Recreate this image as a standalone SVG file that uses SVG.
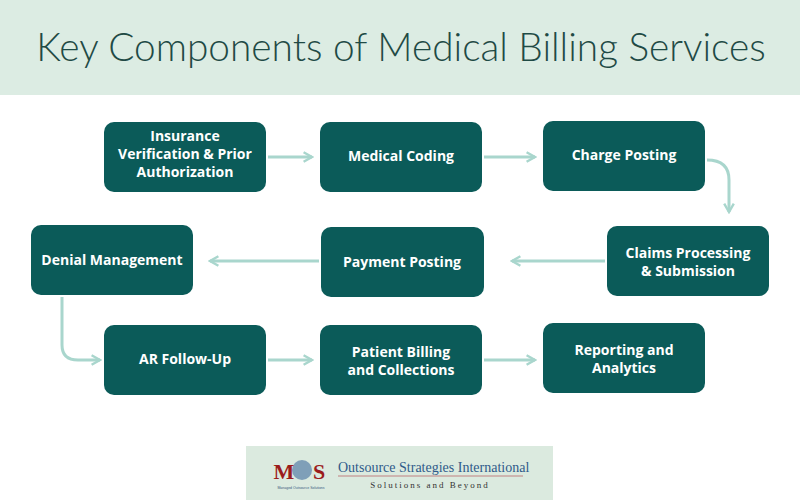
<svg xmlns="http://www.w3.org/2000/svg" width="800" height="500" viewBox="0 0 800 500">
<defs>
<style>
.b{fill:#0b5b59}
.t{fill:#fff;font-family:"Open Sans",sans-serif;font-weight:700;font-size:14px;text-anchor:middle}
.c{fill:none;stroke:#a9d6cd;stroke-width:3}
</style>
<marker id="a" viewBox="0 0 10 10" refX="8" refY="5" markerWidth="4" markerHeight="4" orient="auto" markerUnits="strokeWidth"><path d="M1,1 L8,5 L1,9" fill="none" stroke="#a9d6cd" stroke-width="2"/></marker>
</defs>
<rect width="800" height="500" fill="#fff"/>
<rect width="800" height="95" fill="#dcece3"/>
<text x="401" y="61" font-family="Lato,sans-serif" font-weight="300" font-size="38.8" fill="#1f4a45" text-anchor="middle">Key Components of Medical Billing Services</text>
<g id="connectors">
<path class="c" d="M268,157 H312" marker-end="url(#a)"/>
<path class="c" d="M484,157 H535" marker-end="url(#a)"/>
<path class="c" d="M707,160 Q729,160 729,180 V212" marker-end="url(#a)"/>
<path class="c" d="M605,261 H512" marker-end="url(#a)"/>
<path class="c" d="M319,261 H210" marker-end="url(#a)"/>
<path class="c" d="M62,297 V345 Q62,360 78,360 H100" marker-end="url(#a)"/>
<path class="c" d="M268,360 H312" marker-end="url(#a)"/>
<path class="c" d="M484,360 H535" marker-end="url(#a)"/>
</g>
<g id="n1"><rect class="b" x="104" y="122" width="162" height="70" rx="10"/><text class="t" x="185" y="141">Insurance</text><text class="t" x="185" y="159">Verification &amp; Prior</text><text class="t" x="185" y="177">Authorization</text></g>
<g id="n2"><rect class="b" x="320" y="122" width="162" height="70" rx="10"/><text class="t" x="401" y="161">Medical Coding</text></g>
<g id="n3"><rect class="b" x="543" y="121" width="162" height="70" rx="10"/><text class="t" x="624" y="160">Charge Posting</text></g>
<g id="n4"><rect class="b" x="607" y="226" width="162" height="70" rx="10"/><text class="t" x="688" y="258">Claims Processing</text><text class="t" x="688" y="276">&amp; Submission</text></g>
<g id="n5"><rect class="b" x="321" y="227" width="163" height="70" rx="10"/><text class="t" x="402" y="267">Payment Posting</text></g>
<g id="n6"><rect class="b" x="31" y="225" width="162" height="70" rx="10"/><text class="t" x="112" y="265">Denial Management</text></g>
<g id="n7"><rect class="b" x="104" y="325" width="162" height="70" rx="10"/><text class="t" x="185" y="364">AR Follow-Up</text></g>
<g id="n8"><rect class="b" x="320" y="325" width="162" height="70" rx="10"/><text class="t" x="401" y="357">Patient Billing</text><text class="t" x="401" y="375">and Collections</text></g>
<g id="n9"><rect class="b" x="543" y="323" width="162" height="70" rx="10"/><text class="t" x="624" y="355">Reporting and</text><text class="t" x="624" y="373">Analytics</text></g>
<g id="logo">
<rect x="246" y="446" width="307" height="54" fill="#dbeadf"/>
<circle cx="302" cy="470" r="10" fill="#7f9fb8"/>
<text x="284" y="479" font-family="Liberation Serif,serif" font-weight="700" font-size="22" fill="#9b1c1c" text-anchor="middle">M</text>
<text x="319" y="479" font-family="Liberation Serif,serif" font-weight="700" font-size="22" fill="#9b1c1c" text-anchor="middle">S</text>
<text x="301" y="489" font-family="Liberation Sans,sans-serif" font-size="3.5" fill="#3a5a80" text-anchor="middle">Managed Outsource Solutions</text>
<text x="338" y="472" font-family="Liberation Serif,serif" font-size="14" fill="#2f5a8a">Outsource Strategies International</text>
<line x1="338" y1="476" x2="523" y2="476" stroke="#c08080" stroke-width="1"/>
<text x="430" y="488" font-family="Liberation Serif,serif" font-size="9" letter-spacing="2" fill="#333" text-anchor="middle">Solutions and Beyond</text>
</g>
</svg>
